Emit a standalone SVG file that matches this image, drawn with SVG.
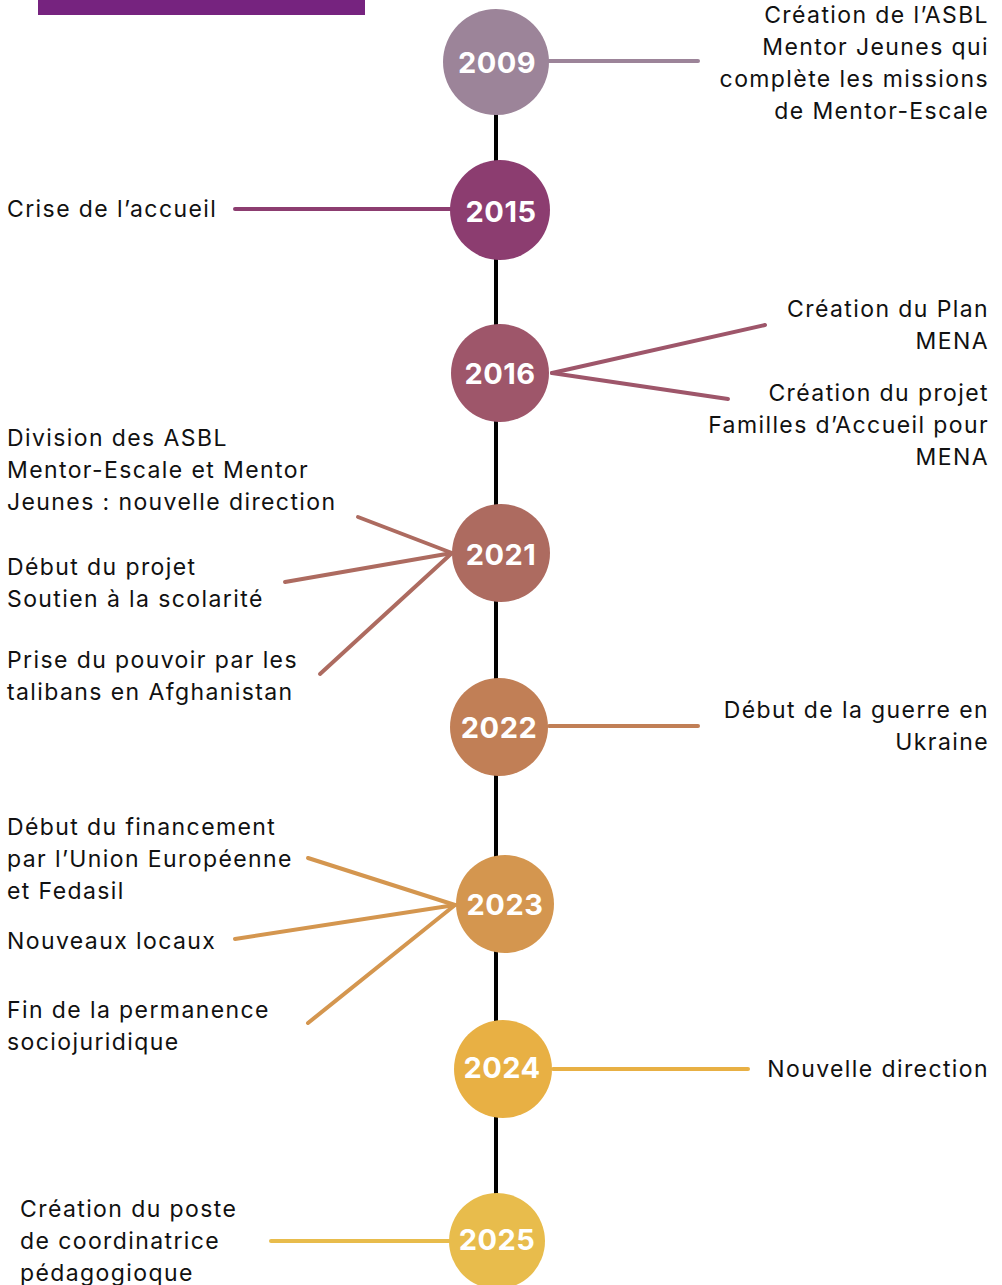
<svg xmlns="http://www.w3.org/2000/svg" width="1002" height="1285" viewBox="0 0 1002 1285">
<style>
.lbl{font-family:Inter,"Open Sans",sans-serif;font-size:23px;letter-spacing:1.4px;fill:#111;}
.r{text-anchor:end;}
.yr{font-family:Inter,"Open Sans",sans-serif;font-size:29px;font-weight:700;letter-spacing:0.5px;fill:#fff;text-anchor:middle;}
.ln{stroke-width:4;stroke-linecap:round;fill:none;}
</style>
<rect x="38" y="0" width="327" height="15" fill="#76237f"/>
<g id="spine"><line x1="496" y1="110" x2="496" y2="1200" stroke="#000" stroke-width="4"/></g>
<g id="connectors">
<line class="ln" x1="549" y1="61" x2="698" y2="61" stroke="#9c8499"/>
<line class="ln" x1="235" y1="209" x2="452" y2="209" stroke="#8c3d70"/>
<line class="ln" x1="552" y1="373" x2="765" y2="325" stroke="#9e566a"/>
<line class="ln" x1="552" y1="373" x2="728" y2="399" stroke="#9e566a"/>
<line class="ln" x1="452" y1="553" x2="358" y2="517" stroke="#ad6b60"/>
<line class="ln" x1="452" y1="553" x2="285" y2="582" stroke="#ad6b60"/>
<line class="ln" x1="452" y1="553" x2="320" y2="674" stroke="#ad6b60"/>
<line class="ln" x1="549" y1="726" x2="698" y2="726" stroke="#c17f56"/>
<line class="ln" x1="455" y1="905" x2="308" y2="858" stroke="#d4964f"/>
<line class="ln" x1="455" y1="905" x2="235" y2="939" stroke="#d4964f"/>
<line class="ln" x1="455" y1="905" x2="308" y2="1023" stroke="#d4964f"/>
<line class="ln" x1="553" y1="1069" x2="748" y2="1069" stroke="#e8b044"/>
<line class="ln" x1="271" y1="1241" x2="452" y2="1241" stroke="#e8bc4c"/>
</g>
<g id="n2009"><circle cx="496" cy="62" r="53" fill="#9c8499"/><text class="yr" x="497" y="73">2009</text>
<text class="lbl r" x="989" y="23">Création de l’ASBL</text><text class="lbl r" x="989" y="55">Mentor Jeunes qui</text><text class="lbl r" x="989" y="87">complète les missions</text><text class="lbl r" x="989" y="119">de Mentor-Escale</text></g>
<g id="n2015"><circle cx="500" cy="210" r="50" fill="#8c3d70"/><text class="yr" x="501" y="222">2015</text>
<text class="lbl" x="7" y="217">Crise de l’accueil</text></g>
<g id="n2016"><circle cx="500" cy="373" r="49" fill="#9e566a"/><text class="yr" x="500" y="384">2016</text>
<text class="lbl r" x="989" y="317">Création du Plan</text><text class="lbl r" x="989" y="349">MENA</text>
<text class="lbl r" x="989" y="401">Création du projet</text><text class="lbl r" x="989" y="433">Familles d’Accueil pour</text><text class="lbl r" x="989" y="465">MENA</text></g>
<g id="n2021"><circle cx="501" cy="553" r="49" fill="#ad6b60"/><text class="yr" x="501" y="565">2021</text>
<text class="lbl" x="7" y="446">Division des ASBL</text><text class="lbl" x="7" y="478">Mentor-Escale et Mentor</text><text class="lbl" x="7" y="510">Jeunes : nouvelle direction</text>
<text class="lbl" x="7" y="575">Début du projet</text><text class="lbl" x="7" y="607">Soutien à la scolarité</text>
<text class="lbl" x="7" y="668">Prise du pouvoir par les</text><text class="lbl" x="7" y="700">talibans en Afghanistan</text></g>
<g id="n2022"><circle cx="499" cy="727" r="49" fill="#c17f56"/><text class="yr" x="499" y="738">2022</text>
<text class="lbl r" x="989" y="718">Début de la guerre en</text><text class="lbl r" x="989" y="750">Ukraine</text></g>
<g id="n2023"><circle cx="505" cy="904" r="49" fill="#d4964f"/><text class="yr" x="505" y="915">2023</text>
<text class="lbl" x="7" y="835">Début du financement</text><text class="lbl" x="7" y="867">par l’Union Européenne</text><text class="lbl" x="7" y="899">et Fedasil</text>
<text class="lbl" x="7" y="949">Nouveaux locaux</text>
<text class="lbl" x="7" y="1018">Fin de la permanence</text><text class="lbl" x="7" y="1050">sociojuridique</text></g>
<g id="n2024"><circle cx="503" cy="1069" r="49" fill="#e8b044"/><text class="yr" x="502" y="1078">2024</text>
<text class="lbl r" x="989" y="1077">Nouvelle direction</text></g>
<g id="n2025"><circle cx="497" cy="1241" r="48" fill="#e8bc4c"/><text class="yr" x="497" y="1250">2025</text>
<text class="lbl" x="20" y="1217">Création du poste</text><text class="lbl" x="20" y="1249">de coordinatrice</text><text class="lbl" x="20" y="1281">pédagogioque</text></g>
</svg>
